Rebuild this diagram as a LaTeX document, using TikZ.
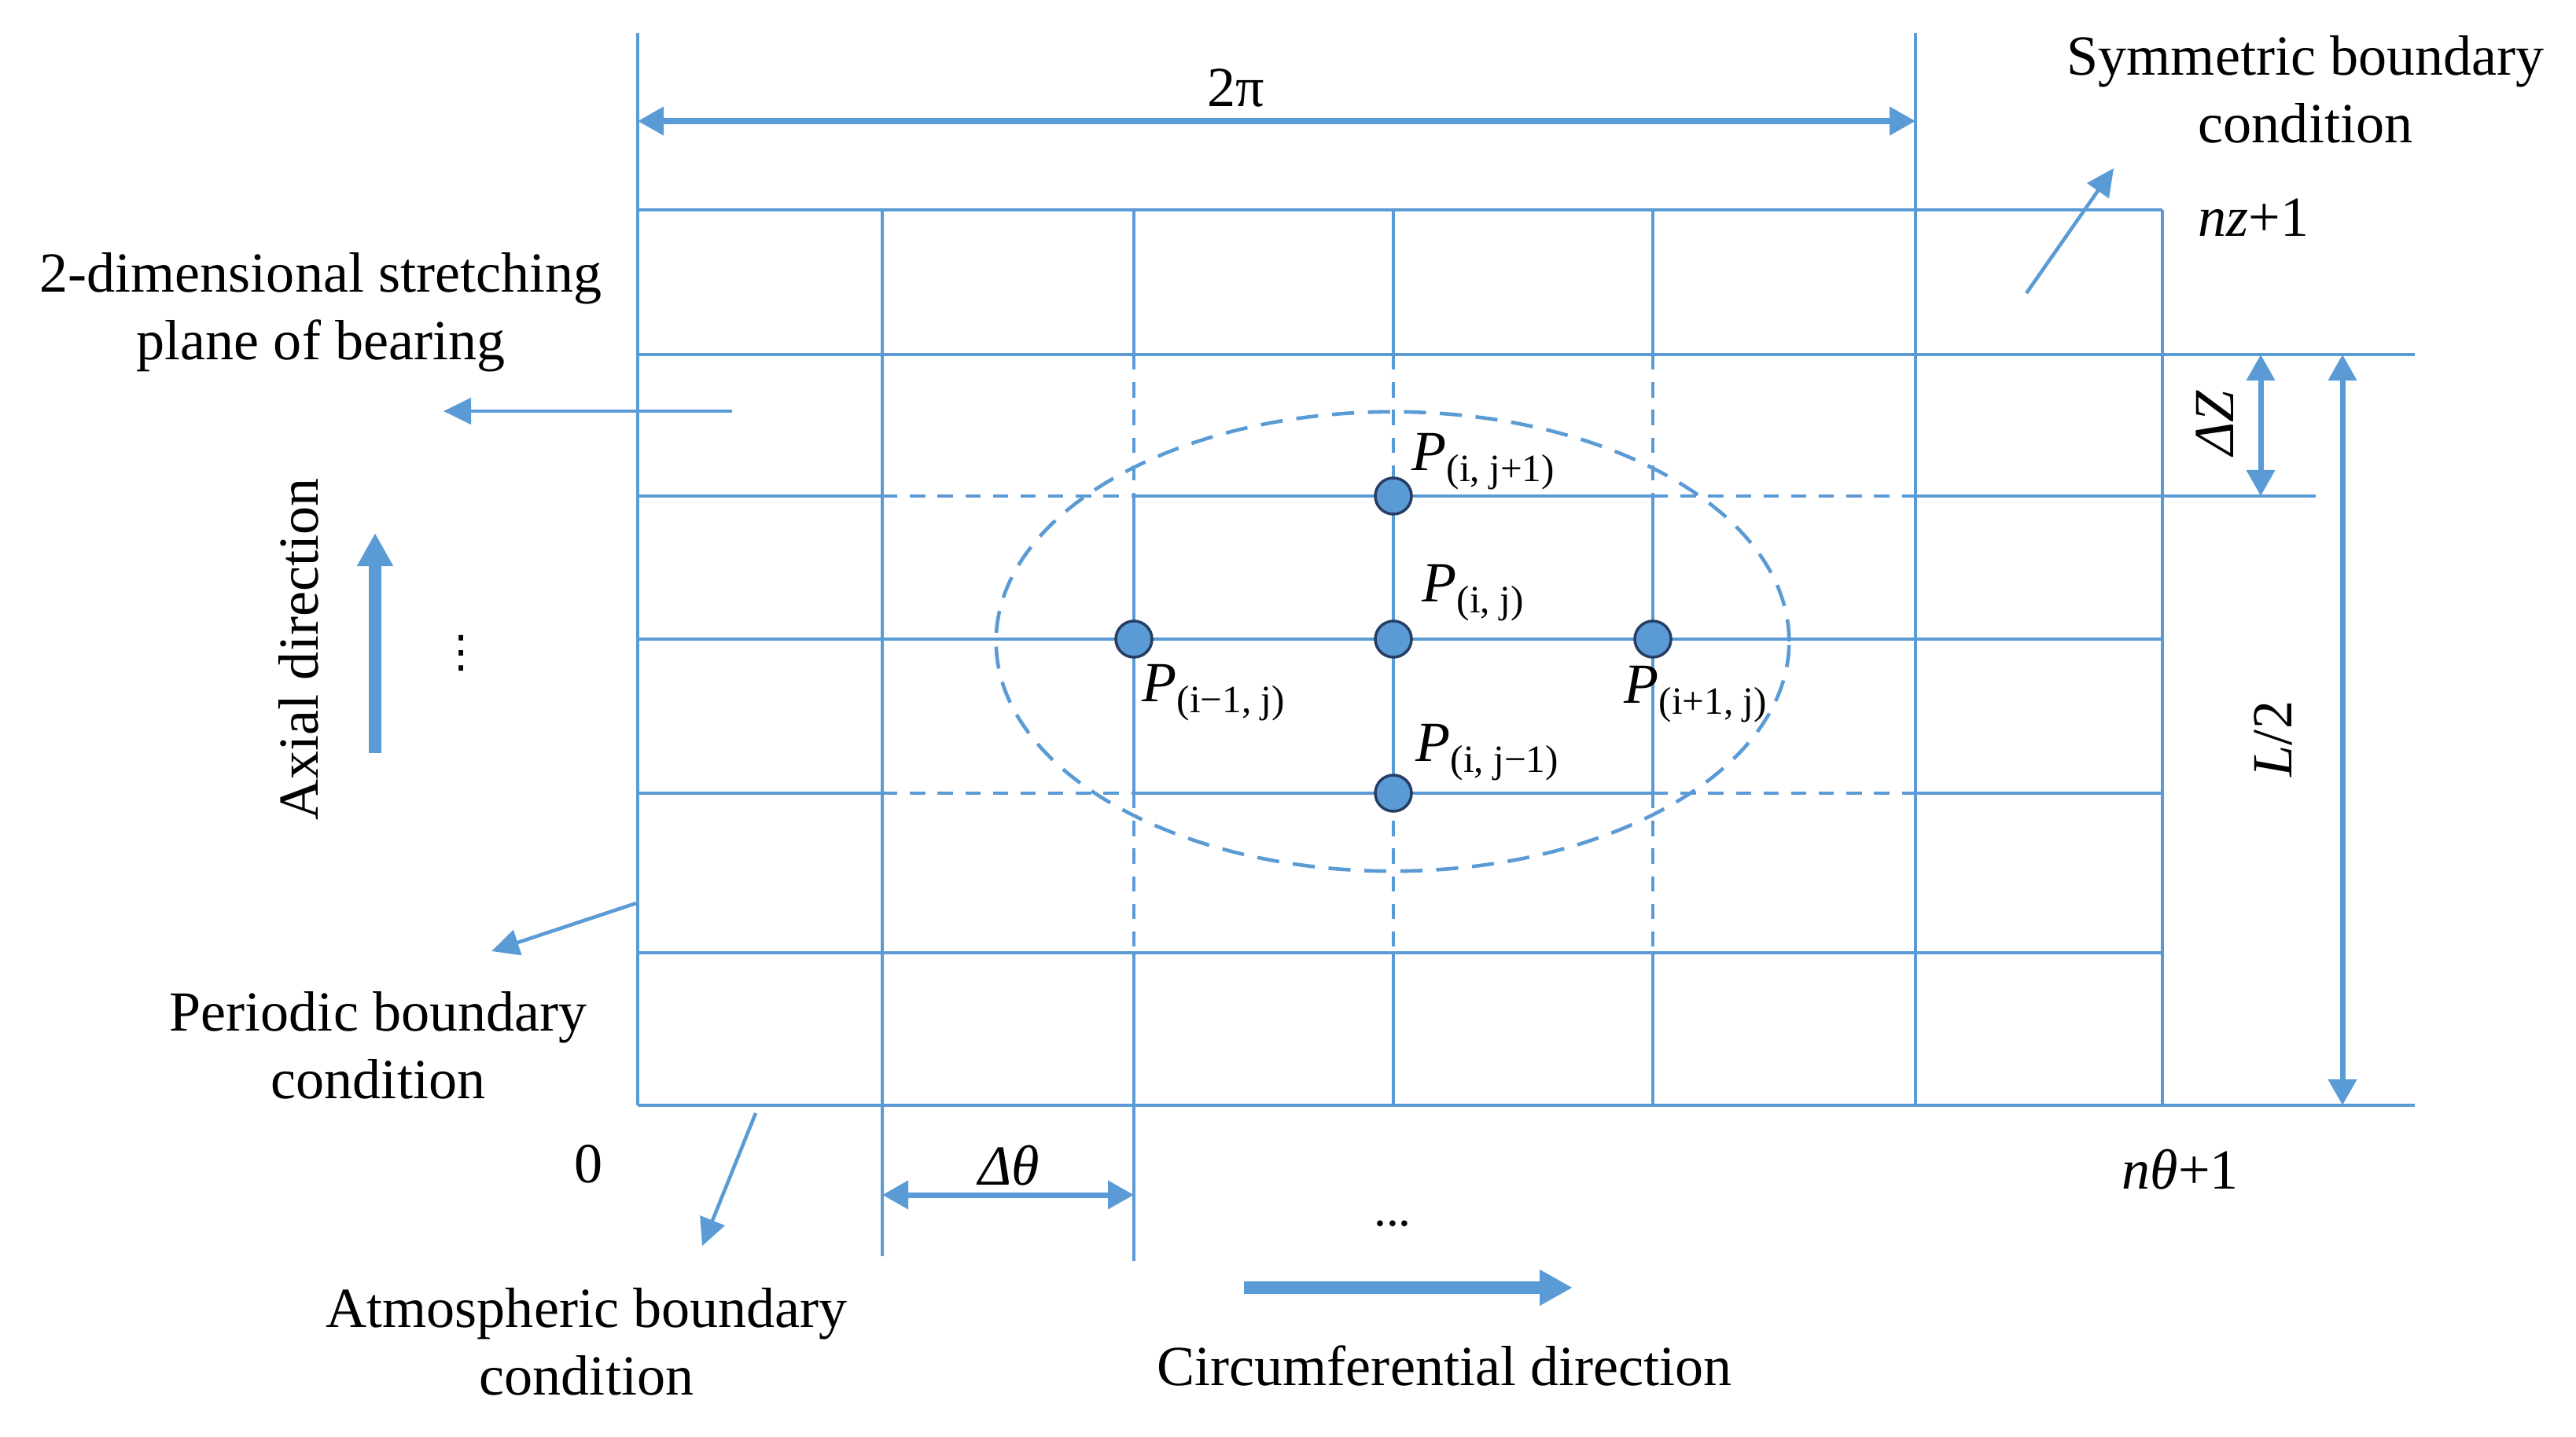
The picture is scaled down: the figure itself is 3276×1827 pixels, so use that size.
\documentclass[tikz,border=0pt]{standalone}
\usepackage{fontspec}
\setmainfont{Liberation Serif}
\newfontfamily\symfont{DejaVu Sans}
\usetikzlibrary{arrows.meta}
\definecolor{gridblue}{RGB}{91,155,213}
\definecolor{rimblue}{RGB}{38,62,100}
\tikzstyle{grid}=[gridblue, line width=1.2pt]
\tikzstyle{gap}=[grid, dash pattern=on 5.5pt off 4.5pt]
\tikzstyle{point}=[circle, draw=rimblue, fill=gridblue, line width=1pt, inner sep=0pt, minimum size=0.46cm]
\tikzstyle{txt}=[font=\fontsize{20.5}{24.5}\selectfont, inner sep=0pt, align=center]
\tikzstyle{dim}=[gridblue, line width=2pt, {Triangle[length=0.33cm,width=0.35cm]}-{Triangle[length=0.33cm,width=0.35cm]}]
\tikzstyle{lead}=[gridblue, line width=1.3pt, -{Triangle[length=0.35cm,width=0.33cm]}]
\tikzstyle{bigarrow}=[gridblue, line width=4.3pt, -{Triangle[length=0.42cm,width=0.43cm]}]
\newcommand{\point}{\node[point]}
\newcommand{\Pidx}[1]{\textit{P}\raisebox{-4pt}{\fontsize{14}{14}\selectfont (#1)}}

\begin{document}
\begin{tikzpicture}[x=0.01cm, y=-0.01cm]
\useasboundingbox (0,0) rectangle (3276,1827);

% mesh
\draw[grid] (811,42) -- (811,1406);
\draw[grid] (2436,42) -- (2436,1406);
\draw[grid] (1122,267) -- (1122,1598);
\draw[grid] (2750,267) -- (2750,1406);
\foreach \y in {267,813,1212} \draw[grid] (811,\y) -- (2750,\y);
\foreach \y in {451,1406} \draw[grid] (811,\y) -- (3071,\y);
\foreach \y/\e in {631/2945,1009/2750} {
  \draw[grid] (811,\y) -- (1122,\y) (1442,\y) -- (2102,\y) (2436,\y) -- (\e,\y);
  \draw[gap] (1122,\y) -- (1442,\y) (2102,\y) -- (2436,\y);
}
\foreach \x/\e in {1442/1604,1772/1406,2102/1406} {
  \draw[grid] (\x,267) -- (\x,451) (\x,631) -- (\x,1009) (\x,1212) -- (\x,\e);
  \draw[gap] (\x,451) -- (\x,631) (\x,1009) -- (\x,1212);
}
\draw[gridblue, line width=1.3pt, dash pattern=on 8pt off 5pt] (1771,816) ellipse [x radius=5.04cm, y radius=2.92cm];

% stencil points
\point (pim) at (1442,813) {};
\point (pjp) at (1772,631) {};
\point (pij) at (1772,813) {};
\point (pip) at (2102,813) {};
\point (pjm) at (1772,1009) {};
\node[txt, anchor=base west] (lpjp) at (1795,598) {\Pidx{i, j+1}};
\node[txt, anchor=base west] (lpij) at (1808,765) {\Pidx{i, j}};
\node[txt, anchor=base west] (lpim) at (1452,892) {\Pidx{i−1, j}};
\node[txt, anchor=base west] (lpip) at (2065,894) {\Pidx{i+1, j}};
\node[txt, anchor=base west] (lpjm) at (1800,968) {\Pidx{i, j−1}};

% texts
\node[txt] (sym) at (2932,114) {Symmetric boundary\\condition};
\node[txt, anchor=base west] (nz) at (2795,300) {\textit{nz}+1};
\node[txt] (plane) at (408,397) {2-dimensional stretching\\plane of bearing};
\node[txt, rotate=90] (axial) at (380,826) {Axial direction};
\node[inner sep=0pt, font=\symfont\fontsize{16}{16}\selectfont] (vdots) at (587,831) {⋮};
\node[txt] (periodic) at (481,1330) {Periodic boundary\\condition};
\node[txt, anchor=base] (zero) at (749,1504) {0};
\node[txt] (atmos) at (746,1707) {Atmospheric boundary\\condition};
\node[txt, anchor=base] (circ) at (1837,1762) {Circumferential direction};
\node[inner sep=0pt, font=\fontsize{18}{18}\selectfont] (hdots) at (1771,1557) {...};
\node[txt, anchor=base] (dtheta) at (1283,1507) {\textit{Δθ}};
\node[txt, anchor=base] (twopi) at (1572,135) {2π};
\node[txt, rotate=90] (dz) at (2817,538) {\textit{ΔZ}};
\node[txt, rotate=90] (half) at (2891,940) {\textit{L}/2};
\node[txt, anchor=base west] (ntheta) at (2698,1512) {\textit{nθ}+1};

% arrow ends
\coordinate (symA) at (2577,373);   \coordinate (symB) at (2688,214);
\coordinate (plA) at (931,523);     \coordinate (plB) at (564,523);
\coordinate (perA) at (809,1149);   \coordinate (perB) at (625,1210);
\coordinate (atmA) at (961,1416);   \coordinate (atmB) at (893,1585);
\coordinate (axA) at (477,958);     \coordinate (axB) at (477,678);
\coordinate (ciA) at (1582,1638);   \coordinate (ciB) at (2000,1638);
\coordinate (tpA) at (811,154);     \coordinate (tpB) at (2436,154);
\coordinate (dtA) at (1122,1520);   \coordinate (dtB) at (1442,1520);
\coordinate (dzA) at (2875,451);    \coordinate (dzB) at (2875,631);
\coordinate (hfA) at (2979,451);    \coordinate (hfB) at (2979,1406);

\path[lead]
(symA) edge (symB)
(plA) edge (plB)
(perA) edge (perB)
(atmA) edge (atmB);
\path[bigarrow]
(axA) edge (axB)
(ciA) edge (ciB);
\path[dim]
(tpA) edge (tpB)
(dtA) edge (dtB)
(dzA) edge (dzB)
(hfA) edge (hfB);
\end{tikzpicture}
\end{document}
